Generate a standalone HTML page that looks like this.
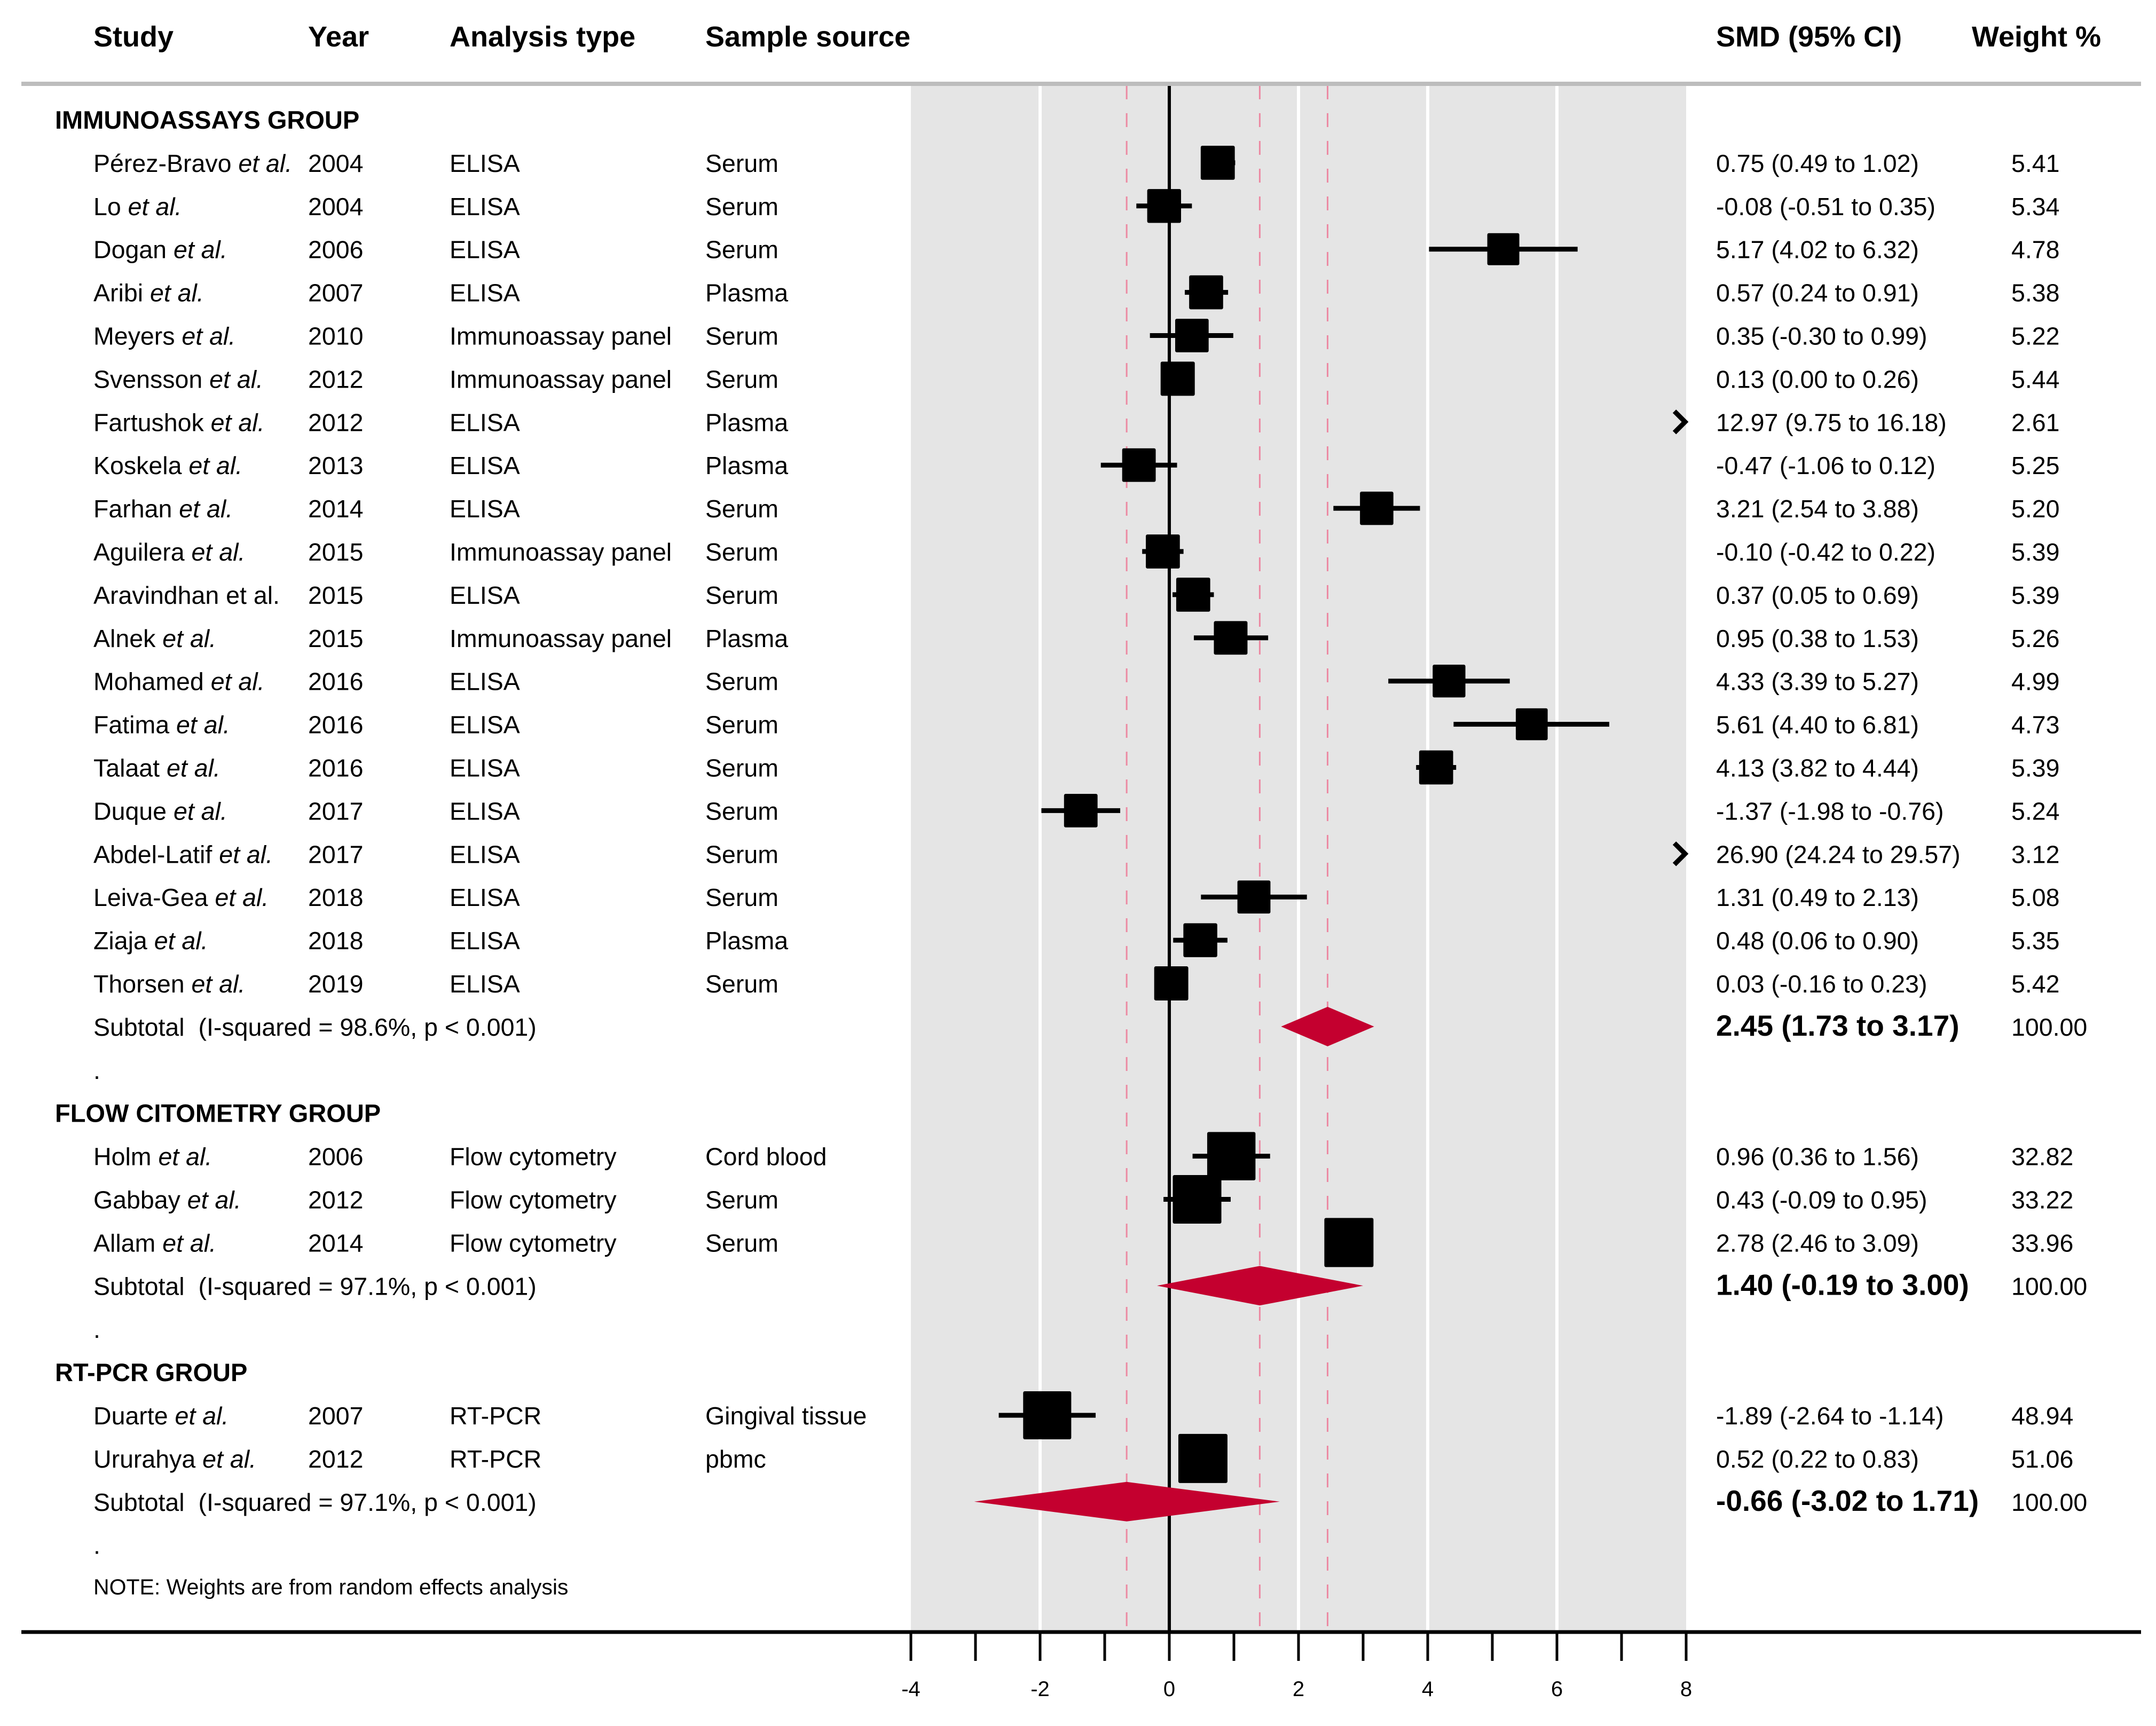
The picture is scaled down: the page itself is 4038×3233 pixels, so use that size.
<!DOCTYPE html>
<html><head><meta charset="utf-8">
<style>
html,body{margin:0;padding:0;background:#fff;}
svg{display:block;}
text{font-family:"Liberation Sans",Arial,sans-serif;fill:#000;white-space:pre;}
</style></head>
<body>
<svg id="chart" width="4038" height="3233" viewBox="0 0 4038 3233" xmlns="http://www.w3.org/2000/svg"></svg>
<script>
// ---- data ----
const groupNames = ["IMMUNOASSAYS GROUP","FLOW CITOMETRY GROUP","RT-PCR GROUP"];
const studyNames = [
 ["Pérez-Bravo",1],["Lo",1],["Dogan",1],["Aribi",1],["Meyers",1],["Svensson",1],["Fartushok",1],["Koskela",1],["Farhan",1],["Aguilera",1],["Aravindhan et al.",0],["Alnek",1],["Mohamed",1],["Fatima",1],["Talaat",1],["Duque",1],["Abdel-Latif",1],["Leiva-Gea",1],["Ziaja",1],["Thorsen",1],
 ["Holm",1],["Gabbay",1],["Allam",1],
 ["Duarte",1],["Ururahya",1]
];
const studyGroup = [0,0,0,0,0,0,0,0,0,0,0,0,0,0,0,0,0,0,0,0,1,1,1,2,2];
const years = [2004,2004,2006,2007,2010,2012,2012,2013,2014,2015,2015,2015,2016,2016,2016,2017,2017,2018,2018,2019,2006,2012,2014,2007,2012];
const analysisTypes = ["ELISA","ELISA","ELISA","ELISA","Immunoassay panel","Immunoassay panel","ELISA","ELISA","ELISA","Immunoassay panel","ELISA","Immunoassay panel","ELISA","ELISA","ELISA","ELISA","ELISA","ELISA","ELISA","ELISA","Flow cytometry","Flow cytometry","Flow cytometry","RT-PCR","RT-PCR"];
const sampleSources = ["Serum","Serum","Serum","Plasma","Serum","Serum","Plasma","Plasma","Serum","Serum","Serum","Plasma","Serum","Serum","Serum","Serum","Serum","Serum","Plasma","Serum","Cord blood","Serum","Serum","Gingival tissue","pbmc"];
const smd = [0.75,-0.08,5.17,0.57,0.35,0.13,12.97,-0.47,3.21,-0.10,0.37,0.95,4.33,5.61,4.13,-1.37,26.90,1.31,0.48,0.03,0.96,0.43,2.78,-1.89,0.52];
const ciLow = [0.49,-0.51,4.02,0.24,-0.30,0.00,9.75,-1.06,2.54,-0.42,0.05,0.38,3.39,4.40,3.82,-1.98,24.24,0.49,0.06,-0.16,0.36,-0.09,2.46,-2.64,0.22];
const ciHigh = [1.02,0.35,6.32,0.91,0.99,0.26,16.18,0.12,3.88,0.22,0.69,1.53,5.27,6.81,4.44,-0.76,29.57,2.13,0.90,0.23,1.56,0.95,3.09,-1.14,0.83];
const weights = [5.41,5.34,4.78,5.38,5.22,5.44,2.61,5.25,5.20,5.39,5.39,5.26,4.99,4.73,5.39,5.24,3.12,5.08,5.35,5.42,32.82,33.22,33.96,48.94,51.06];
const subEst = [2.45,1.40,-0.66];
const subLow = [1.73,-0.19,-3.02];
const subHigh = [3.17,3.00,1.71];
const subI2 = ["98.6%","97.1%","97.1%"];
const xTicks = [-4,-2,0,2,4,6,8];
const xMinorTicks = [-4,-3,-2,-1,0,1,2,3,4,5,6,7,8];
const xGrid = [-2,2,4,6];

// ---- layout ----
const svg = document.getElementById('chart');
const NS = "http://www.w3.org/2000/svg";
const X0 = 1706, X1 = 3158, XMIN = -4, XMAX = 8;
const xs = v => X0 + (v - XMIN) / (XMAX - XMIN) * (X1 - X0);
const rowY = k => 224 + 80.9 * k;
const PANEL_TOP = 160, AXIS_Y = 3057;
const boxMax = [64, 92, 92];
const FS = 46.5;
function el(tag, attrs, parent){ const e=document.createElementNS(NS,tag); for(const k in attrs) e.setAttribute(k,attrs[k]); (parent||svg).appendChild(e); return e; }
function txt(x,y,s,opts,parent){ const t=el('text',Object.assign({x:x,y:y,'font-size':FS},opts||{}),parent); t.textContent=s; return t; }

// panel
const panel = el('rect',{x:X0,y:PANEL_TOP,width:X1-X0,height:AXIS_Y-PANEL_TOP,fill:'#e5e5e5'});


xGrid.forEach(v=>{
  const g=el('line',{x1:xs(v),x2:xs(v),y1:PANEL_TOP,y2:AXIS_Y,stroke:'#fff','stroke-width':6});
  
  
});
subEst.forEach(v=>{
  const d=el('line',{x1:xs(v),x2:xs(v),y1:PANEL_TOP,y2:AXIS_Y,stroke:'#ec8aa3','stroke-width':3,'stroke-dasharray':'26 26'});
  
  
});
const zl = el('line',{x1:xs(0),x2:xs(0),y1:PANEL_TOP,y2:AXIS_Y,stroke:'#000','stroke-width':6});



// header rule
const hr = el('rect',{x:40,y:153,width:3970,height:8,fill:'#bdbdbd'});



// headers
const hdrs=[["Study",175],["Year",577],["Analysis type",842],["Sample source",1321],["SMD (95% CI)",3214],["Weight %",3693]];
hdrs.forEach(h=>{
  const t=txt(h[1],87,h[0],{'font-size':54,'font-weight':'bold'});
  
  
});

// rows
let k=0;
for(let g=0; g<3; g++){
  const gh=txt(103,rowY(k)+17,groupNames[g],{'font-size':47,'font-weight':'bold'});
  
  
  k++;
  const idx=[]; for(let i=0;i<studyGroup.length;i++) if(studyGroup[i]===g) idx.push(i);
  const gMaxW=Math.max(...idx.map(i=>weights[i]));
  idx.forEach(i=>{
    const y=rowY(k), by=y+17;
    const nm=txt(175,by,'',{});
    
    
    if(studyNames[i][1]){
      const a=el('tspan',{},nm); a.textContent=studyNames[i][0]+' ';
      const b=el('tspan',{'font-style':'italic'},nm); b.textContent='et al.';
    } else nm.textContent=studyNames[i][0];
    const yr=txt(577,by,String(years[i]));
    
    
    const at=txt(842,by,analysisTypes[i]);
    
    
    const ss=txt(1321,by,sampleSources[i]);
    
    
    const ci=txt(3214,by,smd[i].toFixed(2)+' ('+ciLow[i].toFixed(2)+' to '+ciHigh[i].toFixed(2)+')');
    
    
    const wt=txt(3767,by,weights[i].toFixed(2));
    
    
    if(smd[i]>XMAX){
      const ar=el('path',{d:`M${X1-22} ${y-20} L${X1-2} ${y} L${X1-22} ${y+20}`,fill:'none',stroke:'#000','stroke-width':9});
      
      
    } else {
      const l=el('line',{x1:xs(Math.max(ciLow[i],XMIN)),x2:xs(Math.min(ciHigh[i],XMAX)),y1:y,y2:y,stroke:'#000','stroke-width':9});
      
      
      const s=boxMax[g]*Math.sqrt(weights[i]/gMaxW);
      const r=el('rect',{x:xs(smd[i])-s/2,y:y-s/2,width:s,height:s,fill:'#000',rx:3});
      
      
    }
    k++;
  });
  const y=rowY(k), by=y+17;
  const st=txt(175,by,'Subtotal\u00A0\u00A0(I-squared = '+subI2[g]+', p < 0.001)');
  
  
  const sv=txt(3214,by,subEst[g].toFixed(2)+' ('+subLow[g].toFixed(2)+' to '+subHigh[g].toFixed(2)+')',{'font-weight':'bold','font-size':55});
  
  
  const sw=txt(3767,by,'100.00');
  
  
  const dm=el('polygon',{points:`${xs(subLow[g])},${y} ${xs(subEst[g])},${y-37} ${xs(subHigh[g])},${y} ${xs(subEst[g])},${y+37}`,fill:'#c4002f'});
  
  
  k++;
  const dot=txt(175,rowY(k)+17,'.');
  
  
  k++;
}
const note=txt(175,rowY(k)+12,'NOTE: Weights are from random effects analysis',{'font-size':41});



// axis
const ax=el('line',{x1:40,x2:4010,y1:AXIS_Y,y2:AXIS_Y,stroke:'#000','stroke-width':7});


xMinorTicks.forEach(v=>{
  const t=el('line',{x1:xs(v),x2:xs(v),y1:AXIS_Y,y2:AXIS_Y+54,stroke:'#000','stroke-width':5});
  
  
});
xTicks.forEach(v=>{
  const t=txt(xs(v),3177,String(v),{'font-size':40,'text-anchor':'middle'});
  
  
});
</script>
</body></html>
